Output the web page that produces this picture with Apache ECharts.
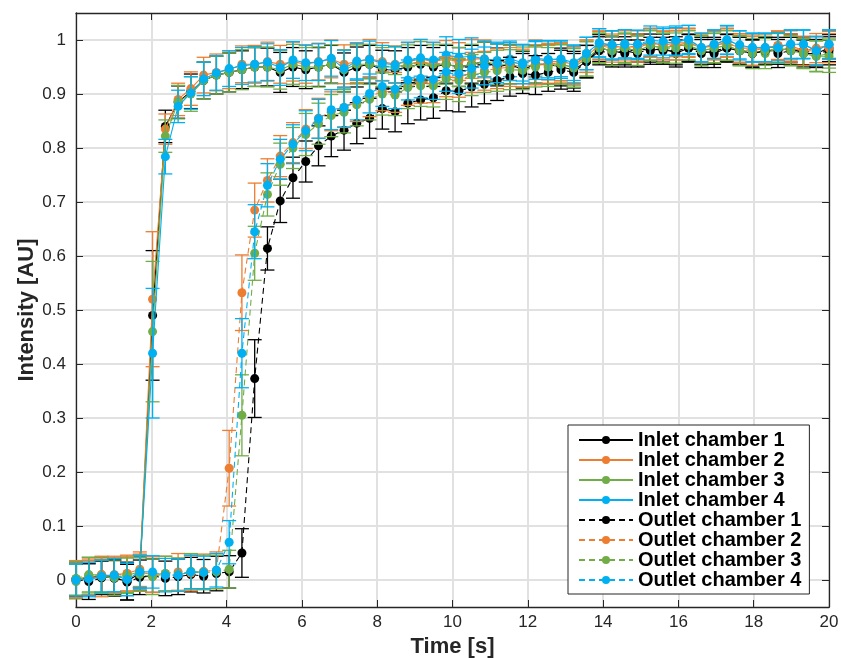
<!DOCTYPE html>
<html>
<head>
<meta charset="utf-8">
<script src="https://cdn.jsdelivr.net/npm/echarts@6/dist/echarts.min.js"></script>
<style>
  html, body { margin: 0; padding: 0; background: #ffffff; }
  #chart { width: 841px; height: 658px; }
</style>
</head>
<body>
<div id="chart"></div>
<script>
// Sample times [s]
const time = [0,0.339,0.678,1.017,1.356,1.695,2.034,2.373,2.712,3.051,3.39,3.729,4.068,4.407,4.746,5.085,5.424,5.763,6.102,6.441,6.78,7.119,7.458,7.797,8.136,8.475,8.814,9.153,9.492,9.831,10.169,10.508,10.847,11.186,11.525,11.864,12.203,12.542,12.881,13.22,13.559,13.898,14.237,14.576,14.915,15.254,15.593,15.932,16.271,16.61,16.949,17.288,17.627,17.966,18.305,18.644,18.983,19.322,19.661,20];

// Mean normalised intensity per chamber
const inlet1 = [0,0.004,0.008,0.003,-0.002,0.012,0.49,0.84,0.885,0.905,0.925,0.935,0.94,0.945,0.95,0.95,0.94,0.95,0.945,0.95,0.955,0.94,0.95,0.955,0.945,0.945,0.95,0.955,0.95,0.955,0.95,0.955,0.96,0.95,0.955,0.945,0.955,0.955,0.95,0.945,0.96,0.985,0.98,0.975,0.985,0.98,0.985,0.975,0.985,0.98,0.975,0.985,0.98,0.975,0.98,0.98,0.985,0.975,0.975,0.985];
const inlet2 = [0.002,0.006,0.004,0.01,0.012,0.02,0.52,0.835,0.89,0.91,0.935,0.94,0.945,0.955,0.955,0.96,0.955,0.96,0.955,0.96,0.965,0.955,0.96,0.965,0.96,0.955,0.96,0.965,0.96,0.965,0.96,0.965,0.965,0.96,0.96,0.955,0.965,0.96,0.96,0.955,0.97,0.99,0.99,0.985,0.99,0.995,0.99,0.995,0.995,0.985,0.99,0.995,0.985,0.985,0.985,0.99,0.99,0.98,0.985,0.99];
const inlet3 = [-0.003,0.009,0.01,0.006,0.008,0.016,0.46,0.822,0.885,0.9,0.925,0.935,0.94,0.945,0.95,0.95,0.945,0.955,0.95,0.95,0.955,0.945,0.955,0.955,0.95,0.95,0.955,0.96,0.955,0.955,0.95,0.955,0.96,0.955,0.955,0.95,0.955,0.955,0.955,0.95,0.965,0.985,0.98,0.985,0.98,0.99,0.985,0.99,0.99,0.98,0.985,0.99,0.98,0.98,0.975,0.985,0.98,0.975,0.97,0.975];
const inlet4 = [0,0,0.007,0.009,0.001,0.015,0.42,0.784,0.877,0.902,0.928,0.939,0.947,0.952,0.955,0.959,0.949,0.963,0.958,0.959,0.966,0.947,0.961,0.964,0.957,0.954,0.963,0.967,0.963,0.972,0.968,0.97,0.965,0.962,0.965,0.958,0.966,0.964,0.965,0.958,0.975,0.995,0.99,0.993,0.991,0.995,0.994,0.997,1,0.986,0.992,1,0.99,0.986,0.986,0.988,0.992,0.992,0.98,0.992];
const outlet1 = [0.002,-0.003,0.004,0.006,-0.004,0.005,0.008,0.003,0.006,0.01,0.007,0.012,0.015,0.05,0.373,0.614,0.702,0.745,0.775,0.804,0.822,0.833,0.846,0.855,0.873,0.867,0.883,0.889,0.893,0.906,0.905,0.913,0.918,0.925,0.932,0.938,0.935,0.94,0.945,0.94,0.96,0.98,0.975,0.98,0.975,0.985,0.98,0.98,0.985,0.975,0.98,0.985,0.98,0.975,0.98,0.975,0.98,0.98,0.975,0.98];
const outlet2 = [0,0.004,0.01,0.008,0.012,0.014,0.01,0.012,0.015,0.013,0.016,0.018,0.207,0.532,0.685,0.74,0.785,0.81,0.835,0.855,0.868,0.875,0.885,0.895,0.905,0.903,0.915,0.92,0.92,0.932,0.93,0.94,0.943,0.947,0.95,0.948,0.953,0.955,0.958,0.952,0.97,0.99,0.985,0.99,0.985,0.995,0.99,0.99,0.995,0.985,0.99,0.995,0.985,0.98,0.985,0.99,0.985,0.98,0.98,0.985];
const outlet3 = [0.003,0.01,0.006,0.004,0.009,0.01,0.006,0.012,0.01,0.016,0.014,0.015,0.02,0.305,0.605,0.714,0.77,0.8,0.825,0.845,0.86,0.866,0.88,0.89,0.9,0.898,0.912,0.915,0.915,0.928,0.925,0.935,0.94,0.943,0.945,0.944,0.95,0.95,0.955,0.948,0.965,0.985,0.98,0.985,0.98,0.99,0.985,0.985,0.99,0.98,0.985,0.99,0.98,0.975,0.98,0.985,0.98,0.975,0.97,0.97];
const outlet4 = [0,0.002,0.007,0.009,0.001,0.015,0.015,0.009,0.009,0.015,0.014,0.018,0.07,0.42,0.645,0.731,0.779,0.807,0.832,0.854,0.871,0.875,0.889,0.901,0.914,0.909,0.926,0.929,0.927,0.941,0.938,0.947,0.952,0.957,0.96,0.955,0.962,0.963,0.964,0.954,0.975,0.994,0.991,0.992,0.992,0.999,0.998,0.999,1.001,0.986,0.992,1,0.991,0.986,0.986,0.986,0.992,0.992,0.98,0.992];

// Standard deviation (half error-bar length) per chamber
const inlet1Err = [0.033,0.032,0.034,0.033,0.035,0.031,0.12,0.03,0.03,0.032,0.034,0.035,0.036,0.035,0.036,0.035,0.037,0.036,0.035,0.036,0.035,0.036,0.037,0.035,0.036,0.035,0.036,0.035,0.036,0.035,0.036,0.035,0.036,0.035,0.036,0.034,0.035,0.036,0.035,0.034,0.03,0.025,0.026,0.025,0.026,0.025,0.026,0.025,0.026,0.025,0.026,0.025,0.026,0.025,0.026,0.025,0.026,0.025,0.026,0.025];
const inlet2Err = [0.034,0.033,0.035,0.034,0.034,0.032,0.125,0.028,0.03,0.031,0.033,0.034,0.035,0.034,0.035,0.036,0.035,0.036,0.035,0.034,0.035,0.036,0.035,0.036,0.035,0.034,0.035,0.036,0.035,0.034,0.035,0.036,0.035,0.034,0.035,0.036,0.035,0.034,0.035,0.034,0.03,0.026,0.027,0.026,0.027,0.026,0.027,0.026,0.027,0.026,0.027,0.026,0.027,0.026,0.027,0.026,0.027,0.026,0.027,0.026];
const inlet3Err = [0.032,0.033,0.032,0.034,0.033,0.03,0.13,0.03,0.031,0.032,0.034,0.035,0.036,0.037,0.036,0.037,0.036,0.037,0.036,0.037,0.036,0.037,0.036,0.037,0.036,0.037,0.036,0.037,0.036,0.037,0.036,0.037,0.036,0.037,0.036,0.037,0.036,0.037,0.036,0.035,0.032,0.027,0.028,0.027,0.028,0.027,0.028,0.027,0.028,0.027,0.028,0.027,0.028,0.027,0.028,0.027,0.028,0.027,0.028,0.027];
const inlet4Err = [0.03,0.031,0.03,0.031,0.03,0.029,0.12,0.032,0.03,0.03,0.031,0.032,0.033,0.034,0.033,0.034,0.033,0.034,0.033,0.034,0.033,0.034,0.033,0.034,0.033,0.034,0.033,0.034,0.033,0.034,0.033,0.034,0.033,0.034,0.033,0.034,0.033,0.034,0.033,0.033,0.03,0.026,0.027,0.026,0.027,0.026,0.027,0.026,0.027,0.026,0.027,0.026,0.027,0.026,0.027,0.026,0.027,0.026,0.027,0.026];
const outlet1Err = [0.032,0.033,0.031,0.032,0.033,0.032,0.031,0.032,0.033,0.032,0.031,0.032,0.03,0.045,0.072,0.04,0.04,0.038,0.038,0.037,0.038,0.037,0.038,0.037,0.038,0.037,0.038,0.037,0.038,0.037,0.038,0.037,0.036,0.037,0.036,0.037,0.036,0.035,0.036,0.035,0.03,0.026,0.025,0.026,0.025,0.026,0.025,0.026,0.025,0.026,0.025,0.026,0.025,0.026,0.025,0.026,0.025,0.026,0.025,0.026];
const outlet2Err = [0.033,0.032,0.034,0.033,0.032,0.034,0.033,0.032,0.034,0.033,0.032,0.034,0.07,0.07,0.05,0.04,0.038,0.037,0.036,0.037,0.036,0.037,0.036,0.037,0.036,0.037,0.036,0.037,0.036,0.037,0.036,0.037,0.036,0.037,0.036,0.035,0.036,0.035,0.036,0.035,0.03,0.027,0.026,0.027,0.026,0.027,0.026,0.027,0.026,0.027,0.026,0.027,0.026,0.027,0.026,0.027,0.026,0.027,0.026,0.027];
const outlet3Err = [0.031,0.032,0.031,0.033,0.032,0.031,0.033,0.032,0.031,0.033,0.032,0.031,0.035,0.075,0.05,0.04,0.039,0.038,0.039,0.038,0.039,0.038,0.039,0.038,0.039,0.038,0.039,0.038,0.039,0.038,0.039,0.038,0.037,0.038,0.037,0.036,0.037,0.036,0.037,0.036,0.032,0.028,0.027,0.028,0.027,0.028,0.027,0.028,0.027,0.028,0.027,0.028,0.027,0.028,0.027,0.028,0.027,0.028,0.029,0.03];
const outlet4Err = [0.03,0.031,0.03,0.031,0.03,0.031,0.03,0.031,0.03,0.031,0.03,0.031,0.04,0.064,0.05,0.04,0.037,0.036,0.037,0.036,0.037,0.036,0.037,0.036,0.037,0.036,0.037,0.036,0.037,0.036,0.037,0.036,0.035,0.036,0.035,0.036,0.035,0.036,0.035,0.035,0.03,0.027,0.026,0.027,0.026,0.027,0.026,0.027,0.026,0.027,0.026,0.027,0.026,0.027,0.026,0.027,0.026,0.027,0.026,0.027];

const yTicks = [0, 0.1, 0.2, 0.3, 0.4, 0.5, 0.6, 0.7, 0.8, 0.9, 1];

const chamberColors = ['#000000', '#ED7D31', '#70AD47', '#00B0F0'];

const traces = [
  { name: 'Inlet chamber 1',  mean: inlet1,  err: inlet1Err,  color: chamberColors[0], dashed: false },
  { name: 'Inlet chamber 2',  mean: inlet2,  err: inlet2Err,  color: chamberColors[1], dashed: false },
  { name: 'Inlet chamber 3',  mean: inlet3,  err: inlet3Err,  color: chamberColors[2], dashed: false },
  { name: 'Inlet chamber 4',  mean: inlet4,  err: inlet4Err,  color: chamberColors[3], dashed: false },
  { name: 'Outlet chamber 1', mean: outlet1, err: outlet1Err, color: chamberColors[0], dashed: true },
  { name: 'Outlet chamber 2', mean: outlet2, err: outlet2Err, color: chamberColors[1], dashed: true },
  { name: 'Outlet chamber 3', mean: outlet3, err: outlet3Err, color: chamberColors[2], dashed: true },
  { name: 'Outlet chamber 4', mean: outlet4, err: outlet4Err, color: chamberColors[3], dashed: true }
];

const FONT = '"Liberation Sans", Arial, Helvetica, sans-serif';
const AXIS_COLOR = '#262626';
const CAP_HALF = 7;

function errorBarRenderer(color) {
  return function (params, api) {
    const x = api.value(0), y = api.value(1), e = api.value(2);
    const hi = api.coord([x, y + e]);
    const lo = api.coord([x, y - e]);
    const style = { stroke: color, lineWidth: 1.3, fill: null };
    return {
      type: 'group',
      children: [
        { type: 'line', shape: { x1: hi[0], y1: hi[1], x2: lo[0], y2: lo[1] }, style: style },
        { type: 'line', shape: { x1: hi[0] - CAP_HALF, y1: hi[1], x2: hi[0] + CAP_HALF, y2: hi[1] }, style: style },
        { type: 'line', shape: { x1: lo[0] - CAP_HALF, y1: lo[1], x2: lo[0] + CAP_HALF, y2: lo[1] }, style: style }
      ]
    };
  };
}

const series = [];
traces.forEach(function (tr, i) {
  series.push({
    type: 'custom',
    name: tr.name + ' (sd)',
    z: 3 + i * 2,
    silent: true,
    renderItem: errorBarRenderer(tr.color),
    encode: { x: 0, y: 1 },
    data: time.map(function (t, k) { return [t, tr.mean[k], tr.err[k]]; })
  });
  series.push({
    type: 'line',
    name: tr.name,
    z: 4 + i * 2,
    data: time.map(function (t, k) { return [t, tr.mean[k]]; }),
    symbol: 'circle',
    symbolSize: 9,
    showSymbol: true,
    showAllSymbol: true,
    itemStyle: { color: tr.color, borderWidth: 0 },
    lineStyle: { color: tr.color, width: 1.1, type: tr.dashed ? [6, 4] : 'solid' },
    emphasis: { disabled: true },
    silent: true
  });
});

const tickCommon = { show: true, inside: true, length: 7, lineStyle: { color: AXIS_COLOR, width: 1 } };
const lineCommon = { show: true, onZero: false, lineStyle: { color: AXIS_COLOR, width: 1.3 } };

const option = {
  animation: false,
  backgroundColor: '#ffffff',
  grid: { left: 76, right: 12, top: 13, bottom: 51, containLabel: false, outerBoundsMode: 'none' },
  xAxis: [
    {
      type: 'value', min: 0, max: 20, interval: 2, position: 'bottom',
      name: 'Time [s]', nameLocation: 'middle', nameGap: 29, nameMoveOverlap: false,
      nameTextStyle: { fontFamily: FONT, fontSize: 22, fontWeight: 'bold', color: AXIS_COLOR },
      axisLine: lineCommon, axisTick: tickCommon,
      axisLabel: { fontFamily: FONT, fontSize: 17, color: AXIS_COLOR, margin: 7 },
      splitLine: { show: true, lineStyle: { color: '#e1e1e1', width: 2 } }
    },
    {
      type: 'value', min: 0, max: 20, interval: 2, position: 'top',
      axisLine: lineCommon, axisTick: tickCommon,
      axisLabel: { show: false }, splitLine: { show: false }
    }
  ],
  yAxis: [
    {
      type: 'value', min: -0.05, max: 1.05, position: 'left',
      name: 'Intensity [AU]', nameLocation: 'middle', nameGap: 38, nameRotate: 90, nameMoveOverlap: false,
      nameTextStyle: { fontFamily: FONT, fontSize: 22, fontWeight: 'bold', color: AXIS_COLOR },
      axisLine: lineCommon,
      axisTick: Object.assign({}, tickCommon, { customValues: yTicks }),
      axisLabel: {
        fontFamily: FONT, fontSize: 17, color: AXIS_COLOR, margin: 10,
        customValues: yTicks,
        formatter: function (v) { return String(+(+v).toFixed(2)); }
      },
      splitLine: { show: true, lineStyle: { color: '#e1e1e1', width: 2 } }
    },
    {
      type: 'value', min: -0.05, max: 1.05, position: 'right',
      axisLine: lineCommon,
      axisTick: Object.assign({}, tickCommon, { customValues: yTicks }),
      axisLabel: { show: false, customValues: yTicks }, splitLine: { show: false }
    }
  ],
  legend: {
    show: true,
    orient: 'vertical',
    left: 568, top: 425,
    data: traces.map(function (t) { return t.name; }),
    backgroundColor: '#ffffff',
    borderColor: AXIS_COLOR, borderWidth: 1, borderRadius: 0,
    padding: [5, 8, 4, 10],
    itemWidth: 54, itemHeight: 10, itemGap: 0,
    selectedMode: false,
    textStyle: { fontFamily: FONT, fontSize: 20, fontWeight: 'bold', color: '#000000', lineHeight: 20 }
  },
  series: series
};

const chart = echarts.init(document.getElementById('chart'), null, { renderer: 'canvas' });
chart.setOption(option);
</script>
</body>
</html>
